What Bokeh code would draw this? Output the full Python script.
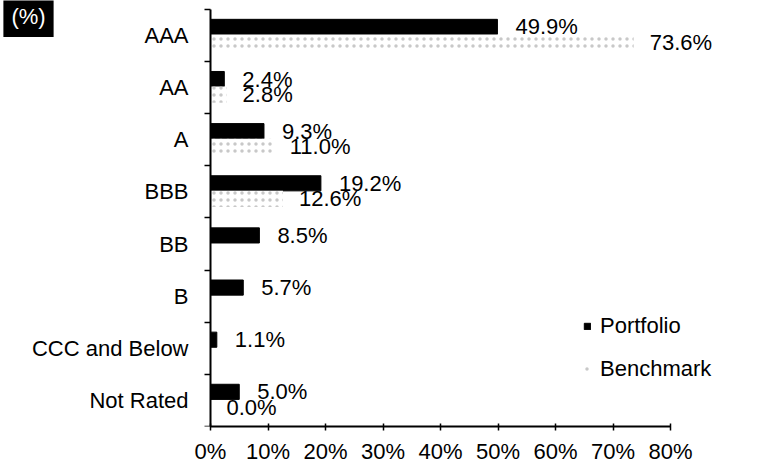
from bokeh.plotting import figure
from bokeh.models import (Range1d, FixedTicker, LinearAxis, ColumnDataSource,
                          Legend, LegendItem, Label)
from bokeh.embed import file_html
from bokeh.resources import INLINE
from bokeh.core.properties import value

categories = ["AAA", "AA", "A", "BBB", "BB", "B", "CCC and Below", "Not Rated"]
portfolio = [49.9, 2.4, 9.3, 19.2, 8.5, 5.7, 1.1, 5.0]
benchmark = [73.6, 2.8, 11.0, 12.6, None, None, None, 0.0]
x_ticks = [0, 10, 20, 30, 40, 50, 60, 70, 80]
x_tick_labels = ["0%", "10%", "20%", "30%", "40%", "50%", "60%", "70%", "80%"]
unit_title = "(%)"

FONT = "Liberation Sans"
FS = "22px"
n = len(categories)
centers = [n - 0.5 - i for i in range(n)]

W, H = 758, 466
PX_PER_PCT = 5.75
AXIS_X = 210          # canvas x of the 0% line
FRAME_W = W - 11
PX_PER_CAT = 52.5
x_start = -AXIS_X / PX_PER_PCT
x_end = x_start + FRAME_W / PX_PER_PCT
y_end = n + 9 / PX_PER_CAT

p = figure(width=W, height=H, output_backend="svg", toolbar_location=None,
           x_range=Range1d(x_start, x_end), y_range=Range1d(0, y_end),
           min_border_left=0, min_border_right=11, min_border_top=0,
           min_border_bottom=37, x_axis_type=None, y_axis_type=None)
p.outline_line_color = None
p.xgrid.visible = False
p.ygrid.visible = False

# portfolio bars (upper) and benchmark bars (lower)
yp = [c + 0.165 for c in centers]
yb = [c - 0.135 for c in centers]
src_p = ColumnDataSource(dict(y=yp, v=portfolio,
                              t=[f"{v:.1f}%" for v in portfolio]))
bx = [v if v is not None else float("nan") for v in benchmark]
src_b = ColumnDataSource(dict(y=yb, v=bx,
                              t=[f"{v:.1f}%" if v is not None else "" for v in benchmark]))

r_p = p.hbar(y="y", right="v", left=0, height=0.29, source=src_p,
             fill_color="black", line_color="black", line_width=1)
r_b = p.hbar(y="y", right="v", left=0, height=0.31, source=src_b,
             fill_color="white", line_color=None,
             hatch_pattern="dot", hatch_color="#c8c8c8", hatch_scale=7,
             hatch_weight=1)

p.text(x="v", y="y", text="t", source=src_p, x_offset=18,
       text_baseline="middle", text_align="left",
       text_font=value(FONT), text_font_size=FS, text_color="black")
p.text(x="v", y="y", text="t", source=src_b, x_offset=16,
       text_baseline="middle", text_align="left",
       text_font=value(FONT), text_font_size=FS, text_color="black")

# axes
xaxis = LinearAxis(ticker=FixedTicker(ticks=x_ticks), bounds=(0, 80))
xaxis.major_label_overrides = {t: l for t, l in zip(x_ticks, x_tick_labels)}
xaxis.major_label_text_font = FONT
xaxis.major_label_text_font_size = FS
xaxis.major_label_text_color = "black"
xaxis.major_tick_in = 3
xaxis.major_tick_out = 4
xaxis.minor_tick_line_color = None
xaxis.major_label_standoff = 8
xaxis.axis_line_width = 2
xaxis.major_tick_line_width = 1.5
p.add_layout(xaxis, "below")

yaxis = LinearAxis(ticker=FixedTicker(ticks=centers, minor_ticks=list(range(n + 1))),
                   bounds=(0, n), fixed_location=0)
yaxis.major_label_overrides = {c: l for c, l in zip(centers, categories)}
yaxis.major_label_text_font = FONT
yaxis.major_label_text_font_size = FS
yaxis.major_label_text_color = "black"
yaxis.major_tick_in = 0
yaxis.major_tick_out = 0
yaxis.minor_tick_in = 0
yaxis.minor_tick_out = 6
yaxis.minor_tick_line_width = 1.5
yaxis.major_label_standoff = 16
yaxis.axis_line_width = 2
p.add_layout(yaxis, "left")

legend = Legend(items=[LegendItem(label="Portfolio", renderers=[r_p]),
                       LegendItem(label="Benchmark", renderers=[r_b])],
                location=(583, 44), padding=0, margin=0, spacing=17,
                glyph_width=8, glyph_height=8, label_height=21,
                label_standoff=9, border_line_color=None,
                background_fill_alpha=0,
                label_text_font=FONT, label_text_font_size=FS,
                label_text_color="black")
p.add_layout(legend)

title = Label(x=(28 - AXIS_X) / PX_PER_PCT, y=n + (9 - 16) / PX_PER_CAT,
              text=unit_title, text_color="white",
              background_fill_color="black", text_align="center",
              text_baseline="middle", text_font=FONT,
              text_font_size="22px", padding=8)
p.add_layout(title)

open("out.html", "w").write(file_html(p, INLINE))
